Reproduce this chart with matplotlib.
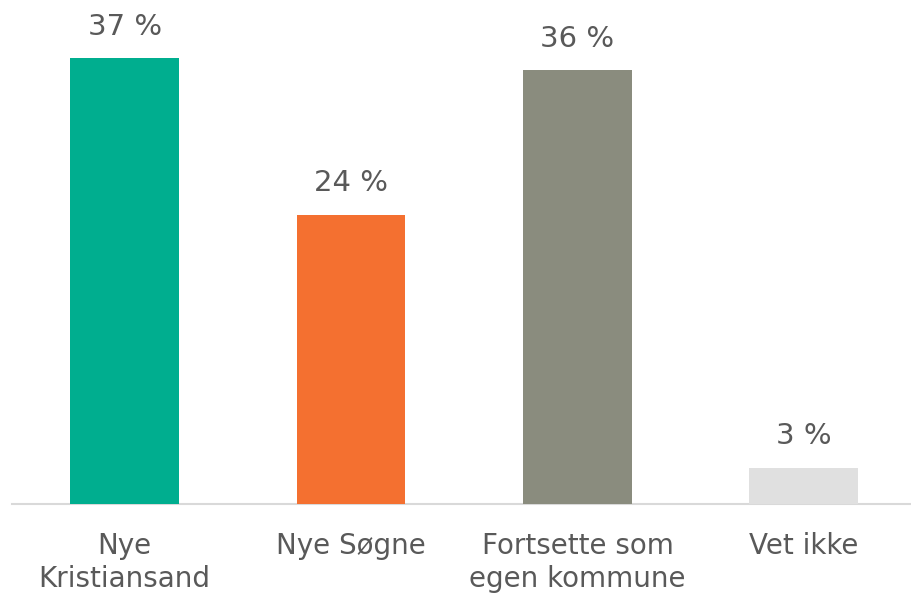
import matplotlib
matplotlib.use("Agg")
import matplotlib.pyplot as plt

# Data
categories = ["Nye\nKristiansand", "Nye Søgne", "Fortsette som\negen kommune", "Vet ikke"]
values = [37, 24, 36, 3]
colors = ["#00AE8F", "#F47030", "#8A8C7E", "#E0E0E0"]

TEXT_COLOR = "#595959"
PX_PER_PCT = 12.05

plt.rcParams["font.family"] = ["DejaVu Sans"]

fig = plt.figure(figsize=(9.11, 5.95), dpi=100)
ax = fig.add_axes([11.5 / 911, 1 - 504 / 595, 905.5 / 911, 40 * PX_PER_PCT / 595])

x = range(len(categories))
bars = ax.bar(x, values, width=0.48, color=colors, zorder=1)

# value labels above each bar
for b, v in zip(bars, values):
    ax.annotate(f"{v} %", (b.get_x() + b.get_width() / 2, v),
                xytext=(0, 17), textcoords="offset points",
                ha="center", va="baseline", fontsize=21, color=TEXT_COLOR)

ax.set_xlim(-0.5, 3.5)
ax.set_ylim(0, 40)
ax.set_xticks(list(x))
ax.set_xticklabels(categories, fontsize=20, color=TEXT_COLOR, linespacing=1.25)
ax.tick_params(axis="x", length=0, pad=20)
ax.set_yticks([])

for s in ["top", "right", "left"]:
    ax.spines[s].set_visible(False)
ax.spines["bottom"].set_color("#D9D9D9")
ax.spines["bottom"].set_linewidth(1.5)
ax.spines["bottom"].set_zorder(0)

fig.savefig("out.png", dpi=100)
